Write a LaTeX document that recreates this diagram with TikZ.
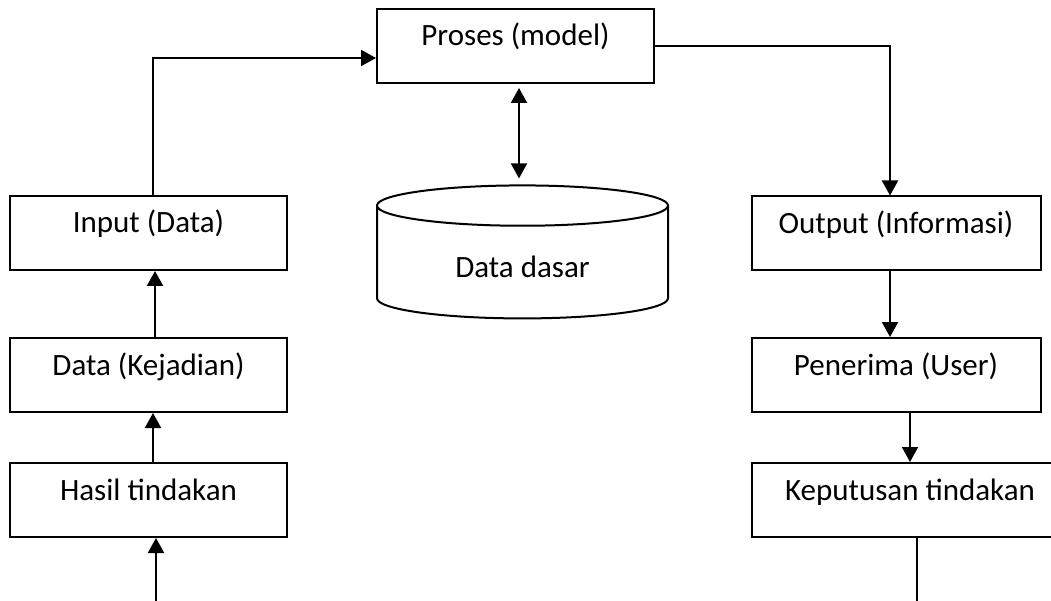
\documentclass[tikz,border=0pt]{standalone}
\usepackage{fontspec}
\setmainfont{Carlito}
\usetikzlibrary{shapes.geometric,arrows.meta}
\begin{document}
\begin{tikzpicture}[x=1pt,y=-1pt,
    box/.style={draw,line width=2pt,minimum height=74pt,inner sep=0pt,
        text height=12pt,text depth=12pt,font=\fontsize{31}{37}\selectfont},
    arr/.style={line width=2pt,-{Triangle[length=15pt,width=16pt]}}]
    \useasboundingbox (0,0) rectangle (1051,601);
    \node[box,minimum width=277pt] (proses) at (515.5,46) {Proses (model)};
    \node[box,minimum width=277pt] (input) at (148.5,233) {Input (Data)};
    \node[box,minimum width=277pt] (kejadian) at (148.5,375) {Data (Kejadian)};
    \node[box,minimum width=277pt] (hasil) at (148.5,500) {Hasil tindakan};
    \node[box,minimum width=289pt] (output) at (896,233.5) {Output (Informasi)};
    \node[box,minimum width=289pt] (penerima) at (896,375) {Penerima (User)};
    \node[box,minimum width=316pt] (keputusan) at (910,500) {Keputusan tindakan};
    \node[draw,line width=2pt,cylinder,shape border rotate=90,aspect=0.3,
        minimum width=291pt,minimum height=133pt,inner sep=0pt,
        text height=30pt,text depth=0pt,font=\fontsize{31}{37}\selectfont]
        (db) at (522.5,262.5) {Data dasar};
    \coordinate (hin) at (156,601);
    \coordinate (kout) at (917,601);
    \draw[arr] ([xshift=4.5pt]input.north) |- ([yshift=-12pt]proses.west);
    \draw[arr] (proses.east) -| ([xshift=-6pt]output.north);
    \draw[line width=2pt,{Triangle[length=15pt,width=16pt]}-{Triangle[length=15pt,width=16pt]},shorten <=4pt,shorten >=6pt]
        ([xshift=3.5pt]proses.south) -- ([xshift=3.5pt]proses.south |- db.north);
    \draw[arr] ([xshift=6.5pt]kejadian.north) -- ([xshift=6.5pt]input.south);
    \draw[arr] ([xshift=4.5pt]hasil.north) -- ([xshift=4.5pt]kejadian.south);
    \draw[arr] (hin) -- (hin |- hasil.south);
    \draw[arr] ([xshift=-6pt]output.south) -- ([xshift=-6pt]penerima.north);
    \draw[arr] (penerima.south -| keputusan.north) -- (keputusan.north);
    \draw[line width=2pt] (kout |- keputusan.south) -- (kout);
\end{tikzpicture}
\end{document}
